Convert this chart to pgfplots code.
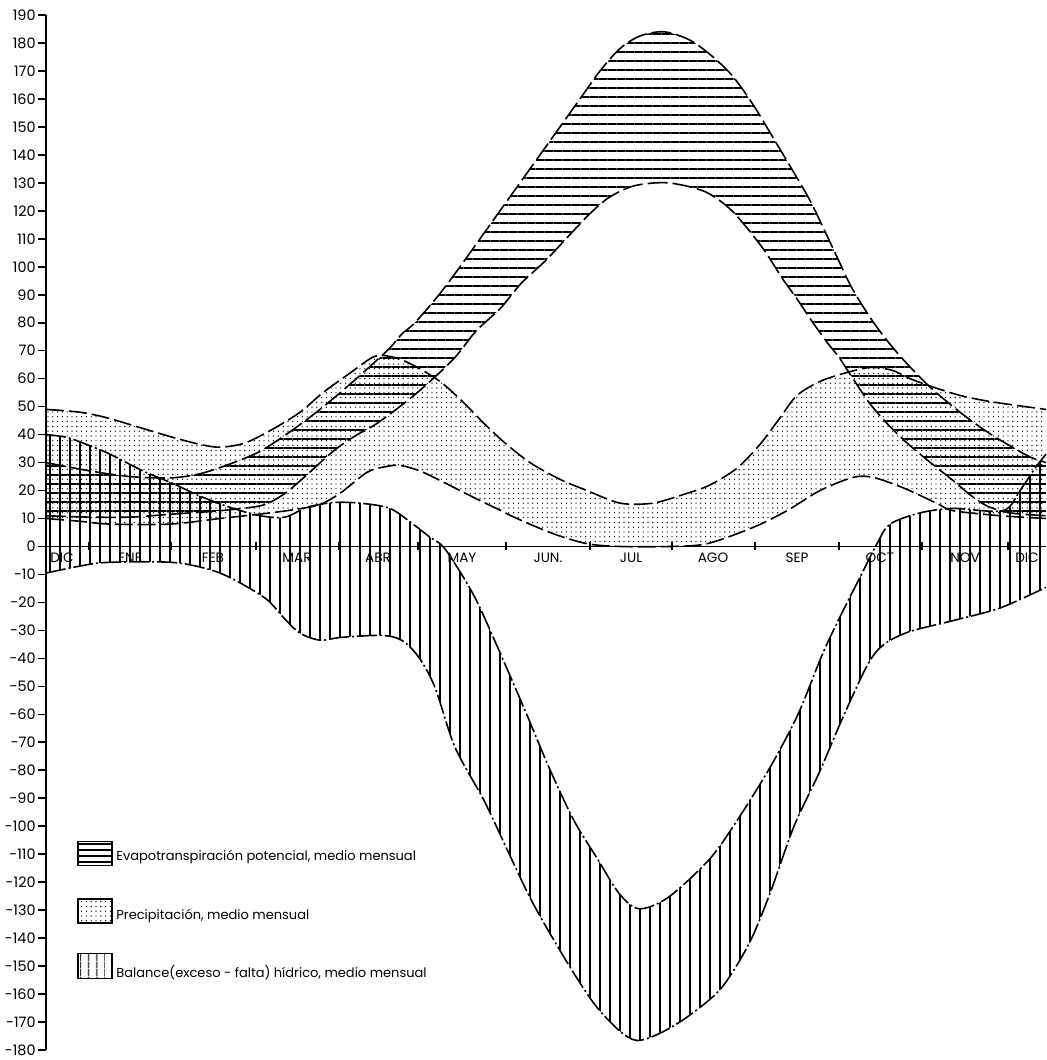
\documentclass[border=0pt]{standalone}
\usepackage{fontspec}
\setmainfont{Poppins}
\usepackage{pgfplots}
\pgfplotsset{compat=1.18}
\usepgfplotslibrary{fillbetween}
\usetikzlibrary{patterns.meta}
\newcommand\legfont{\fontsize{6.5}{7.5}\selectfont}
\begin{document}
\begin{tikzpicture}
\begin{axis}[name=ax, scale only axis, width=500pt, height=517.5pt,
  xmin=46, xmax=1046, ymin=-180, ymax=190,
  axis y line*=left, axis x line*=middle,
  /pgf/number format/assume math mode=true,
  ytick={-180,-170,...,190},
  yticklabel style={font=\fontsize{7.2}{8}\selectfont, /pgf/number format/fixed, inner sep=1pt},
  xtick={89,171,256,339,418,506,590,672,755,839,922,1008}, xticklabels={},
  extra x ticks={62,130,213,297,378,462,548,631,713,797,880,965,1027},
  extra x tick labels={DIC,ENE,FEB,MAR,ABR,MAY,JUN.,JUL,AGO,SEP,OCT,NOV,DIC},
  extra x tick style={major tick length=0pt, xticklabel style={font=\fontsize{6.8}{7.5}\selectfont, yshift=0.5pt}},
  xtick align=center, ytick align=outside,
  major tick length=4pt,
  tick style={line width=0.8pt, black},
  axis line style={line width=0.9pt},
  clip=false]

% Precipitation
\addplot[name path=P1, smooth, line width=0.8pt, dash pattern=on 9pt off 2.5pt] coordinates {
(46,49) (80,48) (107,46) (140,42.5) (173,39) (200,36.5) (220,35.5) (245,37) (273,42) (300,48) (323,55) (350,62) (375,68) (395,67.5) (415,64.5) (440,59) (462,52) (484,44) (505,37) (530,30) (560,24) (587,20) (620,15.5) (653,15.5) (687,19) (710,22) (737,28) (760,36.5) (780,46) (797,54) (820,59) (845,62) (870,64) (892,63) (910,60) (933,57) (960,54) (987,52) (1015,50.5) (1046,49)};
\addplot[name path=P2, smooth, line width=0.8pt, dash pattern=on 9pt off 2.5pt] coordinates {
(46,10) (80,9) (110,8) (170,8) (220,10) (270,12) (300,13.5) (320,15) (340,19) (367,26.5) (385,28.5) (400,29) (420,27) (440,23.6) (460,20) (480,16.4) (500,13) (517,10) (553,4.6) (587,1) (620,0) (670,0) (707,1) (753,6.8) (787,12.8) (820,20) (853,24.7) (873,24.7) (903,21) (937,15.4) (953,12.8) (1000,11) (1046,10)};
\addplot[draw=none, pattern={Dots[distance=2.4pt, radius=0.35pt]}] fill between[of=P1 and P2];

% Evapotranspiration
\addplot[name path=E1, smooth, line width=0.8pt, dash pattern=on 10pt off 2.5pt] coordinates {
(46,30) (90,27) (130,25) (170,24.5) (200,26) (230,29.5) (260,34) (290,41) (320,49) (350,58) (375,66) (390,71) (402,76) (415,80) (439,90) (460,100) (480,110) (500,120) (520,130) (540,140) (560,150) (580,160) (600,170) (620,178) (640,182.5) (664,184) (690,181) (713,175) (733,168) (753,158) (770,148) (790,136) (811,123) (835,105) (851,93) (868,83) (884,75) (904,66.5) (930,57) (960,48) (987,41) (1010,36) (1030,32) (1046,30)};
\addplot[name path=E2, smooth, line width=0.8pt, dash pattern=on 10pt off 2.5pt] coordinates {
(46,11) (90,10.5) (130,10.5) (170,11.5) (210,12.5) (240,13.5) (265,15) (285,19) (305,25) (333,34) (355,39.5) (377,44) (407,52) (430,59) (455,67.6) (476,77) (500,85) (521,94) (545,102) (566,110) (590,119) (610,125) (635,129) (668,130) (704,127) (729,121) (749,113) (766,105) (782,96) (798,88) (811,81) (827,73) (839,67.6) (853,60) (870,51) (887,44) (907,37) (927,31) (953,23.6) (970,18.5) (987,14.5) (1010,12) (1046,11)};
\addplot[draw=none, pattern={Lines[angle=0, distance=4.5pt, line width=0.7pt]}] fill between[of=E1 and E2];

% Balance
\addplot[name path=B1, smooth, line width=0.8pt, dash pattern=on 10pt off 1.5pt on 1pt off 1.5pt] coordinates {
(46,40) (67,39) (90,36) (110,33) (143,27) (173,22.5) (200,18) (230,14) (260,11) (285,10.5) (307,14) (333,15.7) (360,15.5) (390,13.6) (413,8) (430,3.3) (443,0) (460,-9) (476,-19) (496,-34.7) (525,-58.6) (549,-79) (574,-98) (598,-112) (619,-124) (639,-129.5) (668,-125.5) (709,-112) (737,-98) (770,-79) (798,-60) (823,-38) (843,-23) (860,-11) (877,1) (890,8) (920,12) (953,13.6) (1003,12.8) (1020,20) (1035,28) (1046,33)};
\addplot[name path=B2, smooth, line width=0.8pt, dash pattern=on 10pt off 1.5pt on 1pt off 1.5pt] coordinates {
(46,-9.5) (80,-7) (107,-5.7) (173,-5.7) (213,-8.6) (240,-13) (267,-19) (285,-26) (300,-31) (320,-33.5) (341,-32.5) (382,-31.8) (402,-33.6) (419,-39.7) (435,-50.4) (455,-71.8) (484,-90.8) (509,-109.8) (533,-127.6) (566,-148) (594,-163.4) (619,-173) (637,-176.6) (660,-174) (688,-168) (721,-158) (749,-142) (770,-124) (794,-100) (819,-81) (843,-61) (868,-42) (884,-35) (909,-30.5) (953,-26.5) (1000,-22) (1046,-14.6)};
\addplot[draw=none, pattern={Lines[angle=90, distance=5pt, line width=0.6pt]}] fill between[of=B1 and B2];

% Legend
\draw[line width=0.7pt, pattern={Lines[angle=0, distance=3pt, line width=0.6pt]}] (axis cs:78,-105.5) rectangle (axis cs:112,-114);
\node[anchor=west, font=\legfont, inner sep=0pt] at (axis cs:116,-111) {Evapotranspiración potencial, medio mensual};
\draw[line width=0.7pt, pattern={Dots[distance=2.4pt, radius=0.35pt]}] (axis cs:78,-126) rectangle (axis cs:112,-134.6);
\node[anchor=west, font=\legfont, inner sep=0pt] at (axis cs:116,-132) {Precipitación, medio mensual};
\draw[line width=0.7pt, pattern={Lines[angle=90, distance=4pt, line width=0.7pt]}] (axis cs:78,-145.5) rectangle (axis cs:112,-154.5);
\node[anchor=west, font=\legfont, inner sep=0pt] at (axis cs:116,-152.5) {Balance(exceso - falta) hídrico, medio mensual};
\end{axis}
\pgfresetboundingbox
\path ([xshift=-23pt,yshift=-5pt]ax.south west) rectangle ([yshift=7.5pt]ax.north east);
\end{tikzpicture}
\end{document}
